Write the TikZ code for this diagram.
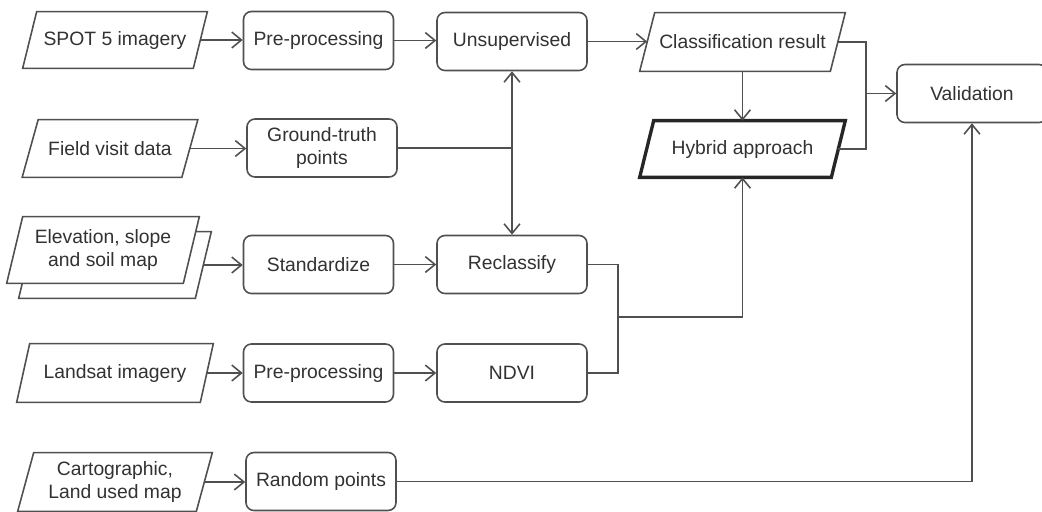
\documentclass[tikz,border=0pt]{standalone}
\usepackage{fontspec}
\setmainfont{Liberation Sans}
\usetikzlibrary{arrows.meta,calc}
\definecolor{linec}{RGB}{80,80,80}
\definecolor{textc}{RGB}{50,50,50}
\newcommand\drawpara[3][]{%
  \draw[paraline,#1] ($(#2.south west)+(-#3/2,0)$) -- ($(#2.north west)+(#3/2,0)$)
    -- ($(#2.north east)+(#3/2,0)$) -- ($(#2.south east)+(-#3/2,0)$) -- cycle;}
\tikzset{
  procbox/.style={draw=linec, line width=0.9pt, rounded corners=4.5pt, fill=white,
    minimum width=3cm, minimum height=1.16cm, align=center, text=textc,
    font=\fontsize{11}{13.5}\selectfont, inner sep=0pt},
  databox/.style={minimum height=1.15cm, align=center, text=textc,
    font=\fontsize{11}{13.5}\selectfont, inner sep=0pt},
  paraline/.style={draw=linec, line width=0.9pt, fill=white, line join=miter},
  thickpara/.style={draw=black!85, line width=1.9pt},
  conn/.style={draw=linec, line width=0.9pt},
  arr/.style={conn, -{Straight Barb[length=5.5pt,width=9pt,line width=0.9pt]}}
}
\begin{document}
\begin{tikzpicture}[x=0.02cm, y=-0.02cm]
\useasboundingbox (0,0) rectangle (1042,511);
\clip (0,0) rectangle (1042,511);

% ---- data (parallelogram) nodes: invisible boxes, outlines drawn below
\node[databox, minimum width=3.4cm, minimum height=1.12cm] (spot) at (115,40) {};
\node[databox, minimum width=3.18cm, minimum height=1.14cm] (field) at (110,148.5) {};
\node[databox, minimum width=3.52cm, minimum height=1.32cm] (elevb) at (115,265) {};
\node[databox, minimum width=3.52cm, minimum height=1.32cm] (elev) at (103,250) {};
\node[databox, minimum width=3.66cm, minimum height=1.16cm] (land) at (115,373) {};
\node[databox, minimum width=3.56cm, minimum height=1.16cm] (carto) at (115,482) {};
\node[databox, minimum width=3.8cm, minimum height=1.16cm] (class) at (742.5,42) {};
\node[databox, minimum width=3.82cm, minimum height=1.12cm] (hyb) at (742.5,149) {};

\drawpara{spot}{14}
\drawpara{field}{16}
\drawpara{elevb}{16}
\drawpara{elev}{16}
\drawpara{land}{13}
\drawpara{carto}{16}
\drawpara{class}{15}
\drawpara[thickpara]{hyb}{14}

\node[databox] at (spot) {SPOT 5 imagery};
\node[databox] at (field) {Field visit data};
\node[databox] at (elev) {Elevation, slope\\and soil map};
\node[databox] at (land) {Landsat imagery};
\node[databox] at (carto) {Cartographic,\\Land used map};
\node[databox] at (class) {Classification result};
\node[databox] at (hyb) {Hybrid approach};

% ---- process boxes
\node[procbox] (pre1) at (318.5,40.5) {Pre-processing};
\node[procbox] (unsup) at (512,41.5) {Unsupervised};
\node[procbox] (gt) at (322,148) {Ground-truth\\points};
\node[procbox] (std) at (318.5,264.5) {Standardize};
\node[procbox] (recl) at (512,264.5) {Reclassify};
\node[procbox] (pre2) at (318.5,373) {Pre-processing};
\node[procbox] (ndvi) at (512,373) {NDVI};
\node[procbox] (rand) at (321,481.5) {Random points};
\node[procbox] (valid) at (972,93.5) {Validation};

% ---- helper coordinates
\coordinate (j1) at (gt.east -| unsup.south);
\coordinate (m1) at ($(valid.west)+(-30,0)$);
\coordinate (m2) at (618,317);

% ---- connectors
\draw[arr] (spot.east) -- (spot.east -| pre1.west);
\draw[arr] (pre1.east) -- (pre1.east -| unsup.west);
\draw[arr] (unsup.east) -- (unsup.east -| class.west);
\draw[arr] (field.east) -- (field.east -| gt.west);
\draw[conn] (gt.east) -- (j1);
\draw[arr] (j1) -- (unsup.south);
\draw[arr] (j1) -- (recl.north);
\draw[arr] (class.south) -- (hyb.north);
\draw[conn] (class.east) -- (class.east -| m1) -- (hyb.east -| m1) -- (hyb.east);
\draw[arr] (m1) -- (valid.west);
\draw[arr] (elevb.east) -- (elevb.east -| std.west);
\draw[arr] (std.east) -- (recl.west);
\draw[arr] (land.east) -- (land.east -| pre2.west);
\draw[arr] (pre2.east) -- (ndvi.west);
\draw[conn] (recl.east) -- (recl.east -| m2) -- (ndvi.east -| m2) -- (ndvi.east);
\draw[arr] (m2) -| (hyb.south);
\draw[arr] (carto.east) -- (carto.east -| rand.west);
\draw[arr] (rand.east) -| (valid.south);
\end{tikzpicture}
\end{document}
